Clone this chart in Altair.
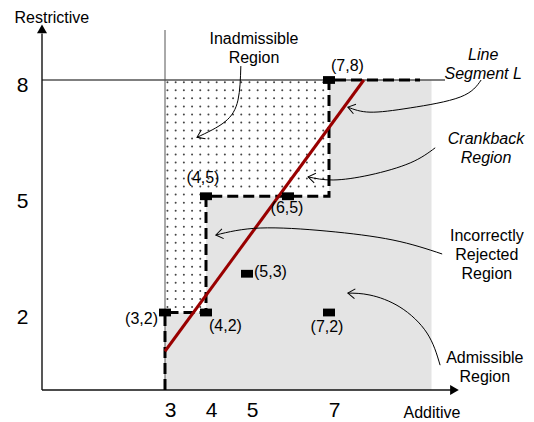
import altair as alt
import pandas as pd

FONT = "Liberation Sans"

# ---------------- data ----------------
point_x = [3, 4, 4, 5, 6, 7, 7]
point_y = [2, 2, 5, 3, 5, 2, 8]
point_label = ["(3,2)", "(4,2)", "(4,5)", "(5,3)", "(6,5)", "(7,2)", "(7,8)"]

# staircase boundary (dashed)
stair_x = [3, 3, 4, 4, 7, 7, 9.22]
stair_y = [0, 2, 2, 5, 5, 8, 8]

# line segment L
segment_x = [3, 7.85]
segment_y = [1.0, 8]

x_ticks = [3, 4, 5, 7]
y_ticks = [2, 5, 8]

# admissible (grey) region and inadmissible (dotted) region
adm_x, adm_x2, adm_y, adm_y2 = [3], [9.5], [0], [8]
inad_x, inad_x2, inad_y, inad_y2 = [3, 4], [4, 7], [2, 5], [8, 8]

# guide lines: x = 3 and y = 8
vline_x, vline_y, vline_y2 = [3], [0], [9.29]
hline_y, hline_x, hline_x2 = [8], [0], [9.83]

# annotations
ann_text = ["Inadmissible\nRegion", "Line\nSegment L", "Crankback\nRegion",
            "Incorrectly\nRejected\nRegion", "Admissible\nRegion"]
ann_x = [5.17, 10.76, 10.83, 10.85, 10.80]
ann_y = [9.27, 8.85, 6.69, 4.17, 1.04]
ann_italic = [False, True, True, False, False]

# curved annotation arrows (control points, in data units)
arrow_id = ([0] * 4) + ([1] * 5) + ([2] * 5) + ([3] * 5) + ([4] * 5)
arrow_x = [4.85, 4.78, 4.46, 3.78,
           10.71, 10.20, 8.98, 8.00, 7.46,
           9.59, 8.98, 8.00, 7.10, 6.49,
           9.76, 8.56, 6.95, 5.32, 4.24,
           9.71, 9.39, 8.73, 8.00, 7.46]
arrow_y = [8.36, 7.48, 6.92, 6.52,
           8.00, 7.56, 7.28, 7.17, 7.30,
           6.25, 5.86, 5.55, 5.42, 5.50,
           3.51, 3.87, 4.10, 4.18, 4.00,
           0.64, 1.47, 2.14, 2.45, 2.50]
arrow_angle = [155, 195, 190, 170, 185]

# ---------------- tables ----------------
points = pd.DataFrame({"x": point_x, "y": point_y, "label": point_label})
stairs = pd.DataFrame({"x": stair_x, "y": stair_y, "k": range(len(stair_x))})
segment = pd.DataFrame({"x": segment_x, "y": segment_y})
adm = pd.DataFrame({"x": adm_x, "x2": adm_x2, "y": adm_y, "y2": adm_y2})
inad = pd.DataFrame({"x": inad_x, "x2": inad_x2, "y": inad_y, "y2": inad_y2})
vline = pd.DataFrame({"x": vline_x, "y": vline_y, "y2": vline_y2})
hline = pd.DataFrame({"y": hline_y, "x": hline_x, "x2": hline_x2})
ann = pd.DataFrame({"text": ann_text, "x": ann_x, "y": ann_y, "italic": ann_italic})
arrows = pd.DataFrame({"id": arrow_id, "x": arrow_x, "y": arrow_y,
                       "k": range(len(arrow_x))})
heads = arrows.groupby("id").tail(1).reset_index(drop=True)
heads["angle"] = arrow_angle
axis_lines = pd.DataFrame({"x": [0, 0], "x2": [0, 10.0], "y": [0, 0], "y2": [9.2, 0]})
axis_heads = pd.DataFrame({"x": [0, 10.06], "y": [9.32, 0],
                           "shape": ["triangle-up", "triangle-right"]})

# ---------------- scales / axes ----------------
xs = alt.Scale(domain=[0, 484 / 41], nice=False, zero=False)
ys = alt.Scale(domain=[0, 382 / 38.75], nice=False, zero=False)

xaxis = alt.Axis(values=x_ticks, title="Additive", domain=False, ticks=False, grid=False,
                 labelFontSize=21, labelPadding=9, labelOffset=5, labelColor="black",
                 labelFont=FONT, titleFont=FONT, titleFontSize=16, titleFontWeight="normal",
                 titleColor="black", titleX=361, titleY=27, titleAlign="left",
                 titleBaseline="alphabetic", titleAngle=0)
yaxis = alt.Axis(values=y_ticks, title="Restrictive", domain=False, ticks=False, grid=False,
                 labelFontSize=21, labelPadding=14, labelOffset=5, labelColor="black",
                 labelFont=FONT, titleFont=FONT, titleFontSize=16, titleFontWeight="normal",
                 titleColor="black", titleX=-28, titleY=14, titleAlign="left",
                 titleBaseline="alphabetic", titleAngle=0)


def X(f="x"):
    return alt.X(f"{f}:Q", scale=xs, axis=xaxis)


def Y(f="y"):
    return alt.Y(f"{f}:Q", scale=ys, axis=yaxis)


grey = alt.Chart(adm).mark_rect(color="#e4e4e4").encode(x=X(), x2="x2", y=Y(), y2="y2")

white = alt.Chart(inad).mark_rect(color="white").encode(x=X(), x2="x2", y=Y(), y2="y2")

dots = alt.Chart(alt.sequence(0, 600, as_="i")).transform_calculate(
    px="3.06 + 0.2 * (datum.i % 20)",
    py="7.94 - 0.207 * floor(datum.i / 20)",
).transform_filter(
    "(datum.px < 4 && datum.py > 2.08) || (datum.py > 5.08)"
).mark_circle(size=4, color="#444444", opacity=1).encode(x=X("px"), y=Y("py"))

vrule = alt.Chart(vline).mark_rule(color="#555555", strokeWidth=1).encode(x=X(), y=Y(), y2="y2")
hrule = alt.Chart(hline).mark_rule(color="#555555", strokeWidth=1.3).encode(y=Y(), x=X(), x2="x2")

axl = alt.Chart(axis_lines).mark_rule(color="#111111", strokeWidth=1.4).encode(
    x=X(), x2="x2", y=Y(), y2="y2")
axh = alt.Chart(axis_heads).mark_point(filled=True, color="black", opacity=1, size=100).encode(
    x=X(), y=Y(), shape=alt.Shape("shape:N", scale=None))

dashed = alt.Chart(stairs).mark_line(color="black", strokeWidth=3, strokeDash=[11, 5],
                                     strokeCap="butt").encode(x=X(), y=Y(), order="k:Q")

redline = alt.Chart(segment).mark_line(color="#990000", strokeWidth=3).encode(x=X(), y=Y())

markers = alt.Chart(points).mark_point(
    shape="M -1 -0.65 L 1 -0.65 L 1 0.65 L -1 0.65 Z", filled=True, color="black",
    opacity=1, size=144).encode(x=X(), y=Y())

label_style = {
    "(3,2)": ("right", -7, 6),
    "(4,2)": ("left", 3, 13),
    "(4,5)": ("center", -3, -18),
    "(5,3)": ("left", 7, -2),
    "(6,5)": ("center", -1, 12),
    "(7,2)": ("center", -2, 14),
    "(7,8)": ("left", 2, -14),
}
label_layers = [
    alt.Chart(points).transform_filter(alt.datum.label == lab).mark_text(
        align=al, dx=dx, dy=dy, baseline="middle", fontSize=16, font=FONT, color="black"
    ).encode(x=X(), y=Y(), text="label:N")
    for lab, (al, dx, dy) in label_style.items()
]

curves = alt.Chart(arrows).mark_line(color="black", strokeWidth=1, interpolate="natural").encode(
    x=X(), y=Y(), detail="id:N", order="k:Q")
curve_heads = alt.Chart(heads).mark_point(
    shape="M -1 -0.7 L 0 0 L -1 0.7", filled=False, color="black", strokeWidth=1,
    opacity=1, size=200).encode(x=X(), y=Y(), angle=alt.Angle("angle:Q", scale=None))

ann_normal = alt.Chart(ann).transform_filter("!datum.italic").mark_text(
    lineBreak="\n", align="center", baseline="top", fontSize=16, lineHeight=19,
    font=FONT, color="black").encode(x=X(), y=Y(), text="text:N")
ann_italic_l = alt.Chart(ann).transform_filter("datum.italic").mark_text(
    lineBreak="\n", align="center", baseline="top", fontSize=16, lineHeight=19,
    font=FONT, fontStyle="italic", color="black").encode(x=X(), y=Y(), text="text:N")

chart = alt.layer(
    grey, white, dots, vrule, hrule, axl, axh, dashed, redline, markers,
    *label_layers, curves, curve_heads, ann_normal, ann_italic_l
).properties(
    width=484, height=382,
    autosize=alt.AutoSizeParams(type="none"),
    padding={"left": 34, "top": 0, "right": 0, "bottom": 32},
    background="white",
).configure(font=FONT).configure_view(stroke=None)

chart.save("out.html", embed_options={"renderer": "svg", "actions": False})
